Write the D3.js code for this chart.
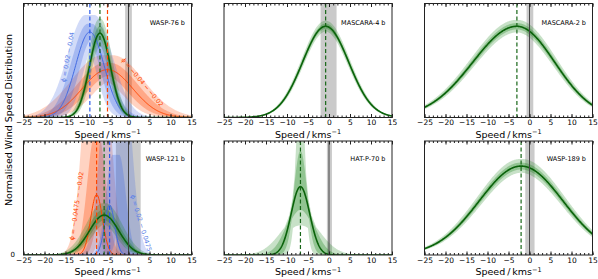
<!DOCTYPE html>
<html lang="en">
<head>
  <meta charset="UTF-8">
  <title>Wind speed distributions</title>
  <script src="https://cdn.jsdelivr.net/npm/d3@7"></script>
  <style>
    body { margin: 0; background: #fff; }
    text { font-family: 'DejaVu Sans', sans-serif; fill: #000; }
    .tick text { font-size: 7.5px; }
    .tick line { stroke: #222; }
    .domain { display: none; }
  </style>
</head>
<body>
  <script>
    // planets, one panel each (row by row)
    var planets = ["WASP-76 b", "MASCARA-4 b", "MASCARA-2 b", "WASP-121 b", "HAT-P-70 b", "WASP-189 b"];
    // systemic-velocity uncertainty band (km/s) and rest line
    var restBand = [[-0.8, 0.8], [-2.0, 1.8], [-0.7, 0.9], [-3.0, 2.9], [-0.5, 0.7], [-1.0, 1.2]];
    var restLine = [0, null, 0, 0, 0, 0];
    var speedTicks = [-25, -20, -15, -10, -5, 0, 5, 10, 15];

    // [centre, sigma left, sigma right, peak, band offset, centre spread, width factor, peak factor, coupling]
    var wasp76Low = [-9.2, 3.4, 3.4, 0.75, 0, 1.0, 1.28, 1.2, 0];
    var wasp76High = [-5.0, 6.0, 6.0, 0.42, 0, 1.3, 1.2, 1.3, 0];
    var wasp76All = [-6.8, 2.5, 2.5, 0.74, 0, 0.2, 1.08, 1.17, 0];
    var mascara4All = [-0.8, 5.5, 5.5, 0.80, 0, 0.1, 1.02, 1.06, 0];
    var mascara2All = [-3.0, 10.5, 9.0, 0.80, 0, 0.2, 1.02, 1.07, 0];
    var wasp121Low = [-7.6, 1.4, 1.4, 0.53, 0, 0.8, 1.65, 4.0, 0];
    var wasp121High = [-4.5, 1.2, 1.2, 0.44, 1.5, 1.5, 1.8, 4.0, 0];
    var wasp121All = [-5.8, 3.5, 3.5, 0.35, 0, 0.3, 1.12, 1.3, 0];
    var hatp70All = [-6.8, 2.2, 2.2, 0.60, 0, 0.1, 2.0, 1.15, 1];
    var wasp189All = [-2.0, 10.0, 10.0, 0.78, 0, 0.2, 1.02, 1.08, 0];

    var phaseLabels = ["ϕ = 0.02 − 0.04", "ϕ = −0.04 − −0.02", "ϕ = −0.0475 − −0.02", "ϕ = 0.02 − 0.0475"];
    // label anchor in data units: [speed, height]
    var phaseAnchors = [[-14.5, 0.53], [3.3, 0.31], [-12.4, 0.43], [3.0, 0.28]];

    var colors = { blue: "#4169e1", orange: "#ff4500", green: "#138013" };

    var series = [
      { panel: 0, c: "orange", p: wasp76High, label: 1, angle: 50 },
      { panel: 0, c: "blue", p: wasp76Low, label: 0, angle: -80 },
      { panel: 0, c: "green", p: wasp76All },
      { panel: 1, c: "green", p: mascara4All },
      { panel: 2, c: "green", p: mascara2All },
      { panel: 3, c: "orange", p: wasp121Low, label: 2, angle: -82 },
      { panel: 3, c: "blue", p: wasp121High, label: 3, angle: 73 },
      { panel: 3, c: "green", p: wasp121All },
      { panel: 4, c: "green", p: hatp70All },
      { panel: 5, c: "green", p: wasp189All }
    ];

    var lefts = [23.5, 224, 424.5], tops = [3.5, 141];
    var W = 168, H = 114;

    var svg = d3.select("body").append("svg")
      .attr("width", 598)
      .attr("height", 279);

    var x = d3.scaleLinear().domain([-25, 15]).range([0, W]);
    var y = d3.scaleLinear().domain([0, 1]).range([H, 0]);
    var grid = d3.range(-25, 15.001, 0.1);

    function profile(p, xv, c, sc, ac) {
      var s = xv < c ? p[1] * sc : p[2] * sc;
      return p[3] * ac * Math.exp(-0.5 * Math.pow((xv - c) / s, 2));
    }

    function band(p, k) {
      var steps = [-1, -0.5, 0, 0.5, 1];
      return grid.map(function (xv) {
        var lo = Infinity, hi = -Infinity;
        steps.forEach(function (tm) {
          steps.forEach(function (ts) {
            steps.forEach(function (ta) {
              var c = p[0] + p[4] + p[5] * k * tm;
              var sc = Math.pow(p[6], k * ts);
              var ac = Math.pow(p[7], k * ta) * Math.pow(sc, -p[8]);
              var v = profile(p, xv, c, sc, ac);
              if (v < lo) lo = v;
              if (v > hi) hi = v;
            });
          });
        });
        return { x: xv, lo: lo, hi: hi };
      });
    }

    var area = d3.area()
      .x(function (d) { return x(d.x); })
      .y0(function (d) { return y(d.lo); })
      .y1(function (d) { return y(Math.min(d.hi, 1.5)); });

    var line = d3.line()
      .x(function (d) { return x(d.x); })
      .y(function (d) { return y(d.v); });

    planets.forEach(function (name, i) {
      var g = svg.append("g")
        .attr("transform", "translate(" + lefts[i % 3] + "," + tops[Math.floor(i / 3)] + ")");

      g.append("clipPath").attr("id", "clip" + i)
        .append("rect").attr("width", W).attr("height", H);

      var plot = g.append("g").attr("clip-path", "url(#clip" + i + ")");

      plot.append("rect")
        .attr("x", x(restBand[i][0]))
        .attr("width", x(restBand[i][1]) - x(restBand[i][0]))
        .attr("height", H)
        .attr("fill", "gray")
        .attr("opacity", 0.42);

      var mine = series.filter(function (s) { return s.panel === i; });

      mine.forEach(function (s) {
        plot.append("path").datum(band(s.p, 1))
          .attr("fill", colors[s.c]).attr("opacity", 0.24).attr("d", area);
        plot.append("path").datum(band(s.p, 0.5))
          .attr("fill", colors[s.c]).attr("opacity", 0.3).attr("d", area);
      });

      mine.forEach(function (s) {
        var pts = grid.map(function (xv) { return { x: xv, v: profile(s.p, xv, s.p[0], 1, 1) }; });
        plot.append("path").datum(pts)
          .attr("fill", "none")
          .attr("stroke", s.c === "green" ? "#0a620a" : colors[s.c])
          .attr("stroke-width", s.c === "green" ? 1.6 : 1)
          .attr("d", line);
      });

      mine.forEach(function (s) {
        plot.append("line")
          .attr("x1", x(s.p[0])).attr("x2", x(s.p[0]))
          .attr("y1", 0).attr("y2", H)
          .attr("stroke", s.c === "green" ? "#176617" : (s.c === "blue" ? "#2a5ae8" : colors[s.c]))
          .attr("stroke-width", 1.2)
          .attr("stroke-dasharray", "4,2.5");
      });

      if (restLine[i] !== null) {
        plot.append("line")
          .attr("x1", x(restLine[i])).attr("x2", x(restLine[i]))
          .attr("y1", 0).attr("y2", H)
          .attr("stroke", "#444")
          .attr("stroke-width", 1);
      }

      mine.forEach(function (s) {
        if (s.label === undefined) return;
        var a = phaseAnchors[s.label];
        g.append("text")
          .attr("transform", "translate(" + x(a[0]) + "," + y(a[1]) + ")rotate(" + s.angle + ")")
          .attr("text-anchor", "middle")
          .attr("dy", "0.35em")
          .style("font-size", "6.3px")
          .style("fill", s.c === "blue" ? "#5a80e8" : colors[s.c])
          .text(phaseLabels[s.label]);
      });

      g.append("text")
        .attr("x", W - 6.5)
        .attr("y", i < 3 ? 21 : 19.5)
        .attr("text-anchor", "end")
        .style("font-size", "6.5px")
        .text(name);

      // ticks, major and minor, pointing inward top and bottom
      g.append("g").attr("transform", "translate(0," + H + ")")
        .call(d3.axisBottom(x).tickValues(d3.range(-25, 16, 1)).tickSize(-2).tickFormat(""));
      g.append("g")
        .call(d3.axisTop(x).tickValues(d3.range(-25, 16, 1)).tickSize(-2).tickFormat(""));
      g.append("g")
        .call(d3.axisTop(x).tickValues(speedTicks).tickSize(-3.5).tickFormat(""));
      g.append("g").attr("transform", "translate(0," + H + ")")
        .call(d3.axisBottom(x).tickValues(speedTicks).tickSize(-3.5).tickPadding(2.5));

      g.append("rect")
        .attr("width", W).attr("height", H)
        .attr("fill", "none")
        .attr("stroke", "#222")
        .attr("stroke-width", 1);

      var xl = g.append("text")
        .attr("x", W / 2)
        .attr("y", H + 20)
        .attr("text-anchor", "middle")
        .style("font-size", "9.5px")
        .text("Speed\u2009/\u2009kms");
      xl.append("tspan")
        .attr("dy", -3.5)
        .style("font-size", "6.5px")
        .text("−1");

      if (i === 3) {
        g.append("text")
          .attr("x", -8.5)
          .attr("y", y(0) + 2)
          .attr("text-anchor", "end")
          .style("font-size", "7px")
          .text("0");
      }
    });

    svg.append("text")
      .attr("transform", "translate(11.5,120)rotate(-90)")
      .attr("text-anchor", "middle")
      .style("font-size", "9.5px")
      .text("Normalised Wind Speed Distribution");
  </script>
</body>
</html>
